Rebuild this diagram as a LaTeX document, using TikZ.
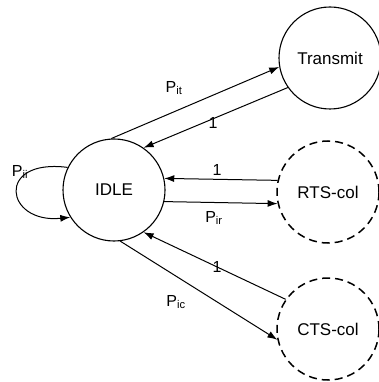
\documentclass[tikz,border=0pt]{standalone}
\usepackage{fontspec}
\setmainfont{Liberation Sans}
\usetikzlibrary{arrows.meta}
\begin{document}
\begin{tikzpicture}[x=1pt,y=-1pt,
  state/.style={circle,draw,line width=1.1pt,minimum size=102pt,inner sep=0pt,font=\fontsize{17}{19}\selectfont},
  coll/.style={state,dashed,dash pattern=on 8pt off 5pt,line width=1.5pt},
  edge/.style={line width=1pt,-{Latex[length=10pt,width=7pt]}},
  lab/.style={font=\fontsize{16}{18}\selectfont,inner sep=1pt}]
\useasboundingbox (0,0) rectangle (379,382);
\node[state] (idle) at (114,190) {IDLE};
\node[state] (tx) at (330,58) {Transmit};
\node[coll] (rts) at (328,192) {RTS-col};
\node[coll] (cts) at (328,329) {CTS-col};
\draw[edge] (idle.93) -- (tx.190);
\draw[edge] (tx.215) -- (idle.55);
\draw[edge] (rts.167) -- (idle.13);
\draw[edge] (idle.-13) -- (rts.193);
\draw[edge] (cts.145) -- (idle.-55);
\draw[edge] (idle.-83) -- (cts.-168);
\draw[edge] (idle.154) .. controls (-5,158) and (5,224) .. (idle.212);
\node[lab] at (174,88) {P\textsubscript{it}};
\node[lab] at (213,123) {1};
\node[lab] at (217,170) {1};
\node[lab] at (214,218) {P\textsubscript{ir}};
\node[lab] at (217,267) {1};
\node[lab] at (176,302) {P\textsubscript{ic}};
\node[lab] at (20,172) {P\textsubscript{ii}};
\end{tikzpicture}
\end{document}
